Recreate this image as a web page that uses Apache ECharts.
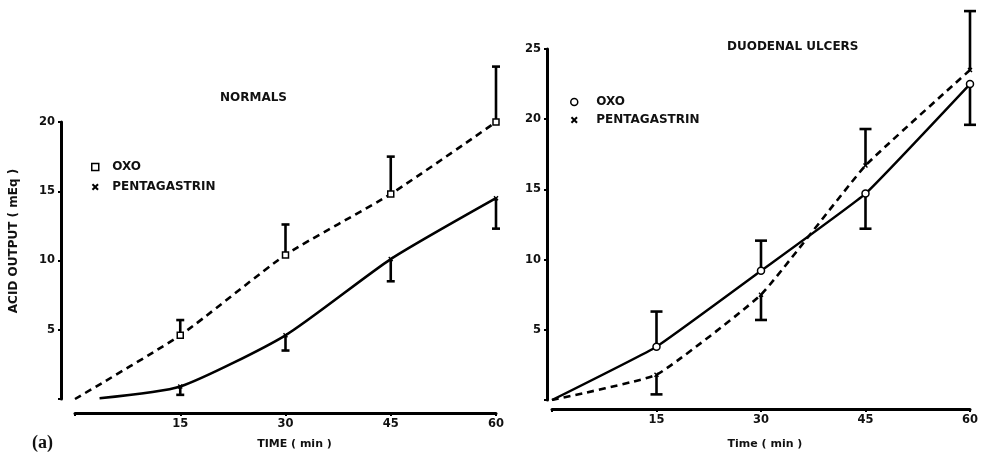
<!DOCTYPE html>
<html>
<head>
<meta charset="utf-8">
<script src="https://cdn.jsdelivr.net/npm/echarts@6/dist/echarts.min.js"></script>
<style>
html,body{margin:0;padding:0;background:#fff;}
#chart{width:981px;height:455px;}
</style>
</head>
<body>
<div id="chart"></div>
<script>
// ---- Data ----
const timeTicks = [0, 15, 30, 45, 60];
const normalsOxoTime = [0, 15, 30, 45, 60];
const normalsOxoMean = [0, 4.6, 10.4, 14.8, 20.0];
const normalsOxoErrEnd = [null, 5.7, 12.6, 17.5, 24.0];
const normalsPentaTime = [3.5, 15, 30, 45, 60];
const normalsPentaMean = [0.05, 0.9, 4.6, 10.1, 14.5];
const normalsPentaErrEnd = [null, 0.3, 3.5, 8.5, 12.3];

const duodenalTime = [0, 15, 30, 45, 60];
const duodenalOxoMean = [0, 3.8, 9.2, 14.7, 22.5];
const duodenalOxoErrEnd = [null, 6.3, 11.35, 12.2, 19.6];
const duodenalPentaMean = [0, 1.8, 7.5, 16.7, 23.5];
const duodenalPentaErrEnd = [null, 0.4, 5.7, 19.3, 27.7];

const FONT = 'DejaVu Sans';
const CROSS = 'path://M0,2L2,0L5,3L8,0L10,2L7,5L10,8L8,10L5,7L2,10L0,8L3,5Z';

function lineData(times, means, firstMarked) {
  return times.map((t, i) => {
    const d = { value: [t, means[i]] };
    if (i === 0 && !firstMarked) d.symbol = 'none';
    return d;
  });
}
function errData(times, means, ends) {
  const out = [];
  times.forEach((t, i) => { if (ends[i] !== null) out.push([t, means[i], ends[i]]); });
  return out;
}
function errRender(capW) {
  return function (params, api) {
    const x = api.value(0), m = api.value(1), e = api.value(2);
    const p0 = api.coord([x, m]), p1 = api.coord([x, e]);
    const st = { stroke: '#000', lineWidth: 2.6 };
    return {
      type: 'group',
      children: [
        { type: 'line', shape: { x1: p0[0], y1: p0[1], x2: p1[0], y2: p1[1] }, style: st },
        { type: 'line', shape: { x1: p1[0] - capW / 2, y1: p1[1], x2: p1[0] + capW / 2, y2: p1[1] }, style: st }
      ]
    };
  };
}

const axisLabelStyle = { fontFamily: FONT, fontWeight: 'bold', fontSize: 11.5, color: '#111' };
function xAxisCfg(idx, name, offset, gap) {
  return {
    type: 'value', gridIndex: idx, min: 0, max: 60, interval: 15, offset: offset,
    name: name, nameLocation: 'middle', nameGap: gap,
    nameTextStyle: { fontFamily: FONT, fontWeight: 'bold', fontSize: 11, color: '#111', padding: idx === 0 ? [0, 0, 0, 18] : [0, 0, 0, 8] },
    axisLine: { onZero: false, lineStyle: { color: '#000', width: 3 } },
    axisTick: { show: true, length: 3, lineStyle: { color: '#000', width: 2 } },
    axisLabel: Object.assign({ margin: 5, formatter: v => (v === 0 ? '' : String(v)) }, axisLabelStyle),
    splitLine: { show: false }
  };
}
function yAxisCfg(idx, max, offset) {
  return {
    type: 'value', gridIndex: idx, min: 0, max: max, interval: 5, offset: offset,
    axisLine: { show: true, onZero: false, lineStyle: { color: '#000', width: 3 } },
    axisTick: { show: true, length: 3, lineStyle: { color: '#000', width: 2 } },
    axisLabel: Object.assign({ margin: 6, formatter: v => (v === 0 ? '' : String(v)) }, axisLabelStyle),
    splitLine: { show: false }
  };
}

const chart = echarts.init(document.getElementById('chart'), null, { renderer: 'canvas' });
chart.setOption({
  animation: false,
  backgroundColor: '#fff',
  title: [
    { text: 'NORMALS', left: 220, top: 92, padding: 0,
      textStyle: { fontFamily: FONT, fontWeight: 'bold', fontSize: 12, color: '#111' } },
    { text: 'DUODENAL ULCERS', left: 727, top: 41, padding: 0,
      textStyle: { fontFamily: FONT, fontWeight: 'bold', fontSize: 12, color: '#111' } },
    { text: '(a)', left: 32, top: 434, padding: 0,
      textStyle: { fontFamily: 'Liberation Serif', fontWeight: 'bold', fontSize: 18, color: '#111' } }
  ],
  legend: [
    { orient: 'vertical', left: 91, top: 161, padding: 0, itemWidth: 24, itemHeight: 7, itemGap: 8,
      selectedMode: false,
      textStyle: { fontFamily: FONT, fontWeight: 'bold', fontSize: 12, color: '#111' },
      data: [
        { name: 'OXO', icon: 'path://M0,0H10V10H0Z', itemStyle: { color: '#fff', borderColor: '#000', borderWidth: 1.5 } },
        { name: 'PENTAGASTRIN', icon: CROSS, itemStyle: { color: '#000', borderWidth: 0 } }
      ] },
    { orient: 'vertical', left: 570, top: 96, padding: 0, itemWidth: 34, itemHeight: 7, itemGap: 6,
      selectedMode: false,
      textStyle: { fontFamily: FONT, fontWeight: 'bold', fontSize: 12, color: '#111' },
      data: [
        { name: 'OXO', icon: 'circle', itemStyle: { color: '#fff', borderColor: '#000', borderWidth: 1.5 } },
        { name: 'PENTAGASTRIN', icon: CROSS, itemStyle: { color: '#000', borderWidth: 0 } }
      ] }
  ],
  graphic: [
    { type: 'text', x: 14, y: 241, rotation: Math.PI / 2,
      style: { text: 'ACID OUTPUT ( mEq )', fontFamily: FONT, fontWeight: 'bold', fontSize: 12, fill: '#111',
        textAlign: 'center', textVerticalAlign: 'middle' } }
  ],
  grid: [
    { left: 75, right: 485, top: 122, bottom: 52 },
    { left: 552, right: 8, top: 49, bottom: 49 }
  ],
  xAxis: [ xAxisCfg(0, 'TIME ( min )', 14, 26), xAxisCfg(1, 'Time ( min )', 9, 30) ],
  yAxis: [ yAxisCfg(0, 20, 14), yAxisCfg(1, 25, 5) ],
  series: [
    // ---- Normals ----
    { name: 'OXO err', type: 'custom', xAxisIndex: 0, yAxisIndex: 0, z: 1,
      renderItem: errRender(8), encode: { x: 0, y: 1 },
      data: errData(normalsOxoTime, normalsOxoMean, normalsOxoErrEnd) },
    { name: 'PENTAGASTRIN err', type: 'custom', xAxisIndex: 0, yAxisIndex: 0, z: 1,
      renderItem: errRender(8), encode: { x: 0, y: 1 },
      data: errData(normalsPentaTime, normalsPentaMean, normalsPentaErrEnd) },
    { name: 'OXO', type: 'line', xAxisIndex: 0, yAxisIndex: 0, z: 3, smooth: 0.2,
      symbol: 'rect', symbolSize: 6,
      itemStyle: { color: '#fff', borderColor: '#000', borderWidth: 1.5 },
      lineStyle: { color: '#000', width: 2.6, type: [7, 5] },
      data: lineData(normalsOxoTime, normalsOxoMean, false) },
    { name: 'PENTAGASTRIN', type: 'line', xAxisIndex: 0, yAxisIndex: 0, z: 3, smooth: 0.2,
      symbol: CROSS, symbolSize: 5,
      itemStyle: { color: '#000', borderWidth: 0 },
      lineStyle: { color: '#000', width: 2.6 },
      data: lineData(normalsPentaTime, normalsPentaMean, false) },
    // ---- Duodenal ulcers ----
    { name: 'OXO err', type: 'custom', xAxisIndex: 1, yAxisIndex: 1, z: 1,
      renderItem: errRender(12), encode: { x: 0, y: 1 },
      data: errData(duodenalTime, duodenalOxoMean, duodenalOxoErrEnd) },
    { name: 'PENTAGASTRIN err', type: 'custom', xAxisIndex: 1, yAxisIndex: 1, z: 1,
      renderItem: errRender(12), encode: { x: 0, y: 1 },
      data: errData(duodenalTime, duodenalPentaMean, duodenalPentaErrEnd) },
    { name: 'OXO', type: 'line', xAxisIndex: 1, yAxisIndex: 1, z: 3, smooth: 0.1,
      symbol: 'circle', symbolSize: 7,
      itemStyle: { color: '#fff', borderColor: '#000', borderWidth: 1.5 },
      lineStyle: { color: '#000', width: 2.4 },
      data: lineData(duodenalTime, duodenalOxoMean, false) },
    { name: 'PENTAGASTRIN', type: 'line', xAxisIndex: 1, yAxisIndex: 1, z: 2, smooth: 0.12,
      symbol: CROSS, symbolSize: 5,
      itemStyle: { color: '#000', borderWidth: 0 },
      lineStyle: { color: '#000', width: 2.6, type: [7, 5] },
      data: lineData(duodenalTime, duodenalPentaMean, false) }
  ]
});
</script>
</body>
</html>
